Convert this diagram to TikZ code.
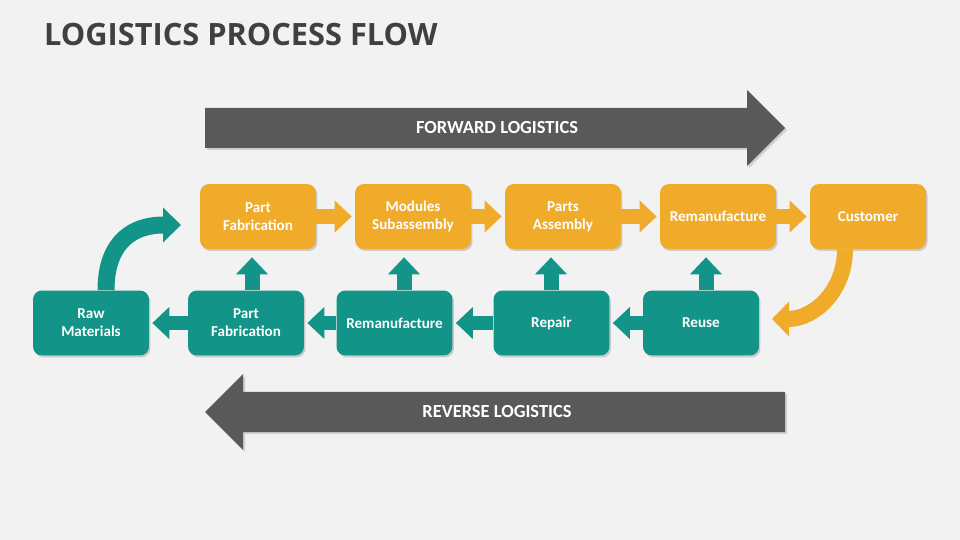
\documentclass[tikz,border=0pt]{standalone}
\usepackage{fontspec}
\setmainfont{Carlito}
\newfontfamily\titlefont{Open Sans}
\usetikzlibrary{arrows.meta,shadows}
\definecolor{bg}{HTML}{F2F2F2}
\definecolor{org}{HTML}{F0AB2B}
\definecolor{teal}{HTML}{129488}
\definecolor{dgray}{HTML}{595959}
\definecolor{ttl}{HTML}{404040}
\tikzset{
 box/.style={rounded corners=1.8mm,minimum width=23.2mm,minimum height=13mm,text width=22mm,align=center,
   text=white,font=\fontsize{8.6pt}{10.4pt}\selectfont\bfseries,inner sep=0pt,
   drop shadow={shadow xshift=0.3mm,shadow yshift=-0.4mm,opacity=0.35}},
 obox/.style={box,fill=org},
 tbox/.style={box,fill=teal},
 blk/.style={line width=3mm,-{Triangle[width=6.2mm,length=3.4mm]}},
 oar/.style={blk,draw=org,shorten >=0.6mm},
 tar/.style={blk,draw=teal,shorten >=0.6mm},
 big/.style={fill=dgray,drop shadow={shadow xshift=0.4mm,shadow yshift=-0.4mm,opacity=0.3}},
 lbl/.style={text=white,font=\fontsize{10.5pt}{12pt}\selectfont\bfseries}
}
\begin{document}
\begin{tikzpicture}[x=0.02cm,y=-0.02cm]
\fill[bg] (0,0) rectangle (960,540);
\useasboundingbox (0,0) rectangle (960,540);
\node[anchor=west,text=ttl,font=\titlefont\fontsize{17.5pt}{20pt}\selectfont\bfseries] (title) at (38,35) {LOGISTICS PROCESS FLOW};
% big arrows
\path[big] (205,108) -- (747,108) -- (747,90) -- (785,128) -- (747,166) -- (747,148) -- (205,148) -- cycle;
\node[lbl] (fwd) at (497,128) {FORWARD LOGISTICS};
\path[big] (785,392) -- (243,392) -- (243,374) -- (205,412) -- (243,450) -- (243,432) -- (785,432) -- cycle;
\node[lbl] (rev) at (497,412) {REVERSE LOGISTICS};
% orange boxes
\node[obox] (o1) at (258,216.5) {Part\\Fabrication};
\node[obox] (o2) at (413,216.5) {Modules\\Subassembly};
\node[obox] (o3) at (563,216.5) {Parts\\Assembly};
\node[obox] (o4) at (718,216.5) {Remanufacture};
\node[obox] (o5) at (868,216.5) {Customer};
% teal boxes
\node[tbox] (t0) at (91,323) {Raw\\Materials};
\node[tbox] (t1) at (246,323) {Part\\Fabrication};
\node[tbox] (t2) at (394.5,323) {Remanufacture};
\node[tbox] (t3) at (551.5,323) {Repair};
\node[tbox] (t4) at (701,323) {Reuse};
% forward small arrows
\draw[oar] (o1.east) -- (o2.west);
\draw[oar] (o2.east) -- (o3.west);
\draw[oar] (o3.east) -- (o4.west);
\draw[oar] (o4.east) -- (o5.west);
% reverse small arrows
\draw[tar] (t4.west) -- (t3.east);
\draw[tar] (t3.west) -- (t2.east);
\draw[tar] (t2.west) -- (t1.east);
\draw[tar] (t1.west) -- (t0.east);
% up arrows
\draw[tar,shorten >=1.6mm] (t1.north -| 252,0) -- (o1.south -| 252,0);
\draw[tar,shorten >=1.6mm] (t2.north -| 404,0) -- (o2.south -| 404,0);
\draw[tar,shorten >=1.6mm] (t3.north -| 551,0) -- (o3.south -| 551,0);
\draw[tar,shorten >=1.6mm] (t4.north -| 706,0) -- (o4.south -| 706,0);
% curved arrows
\coordinate (ct) at (181,225);
\draw[line width=3.4mm,draw=teal,-{Triangle[width=6.8mm,length=3.6mm]}] (t0.north -| 106,0) .. controls (106,250) and (125,225) .. (ct);
\coordinate (co) at (772,319);
\draw[line width=3.2mm,draw=org,-{Triangle[width=6.8mm,length=3.4mm]}] (o5.south -| 845,0) .. controls (845,290) and (815,319) .. (co);
\end{tikzpicture}
\end{document}
